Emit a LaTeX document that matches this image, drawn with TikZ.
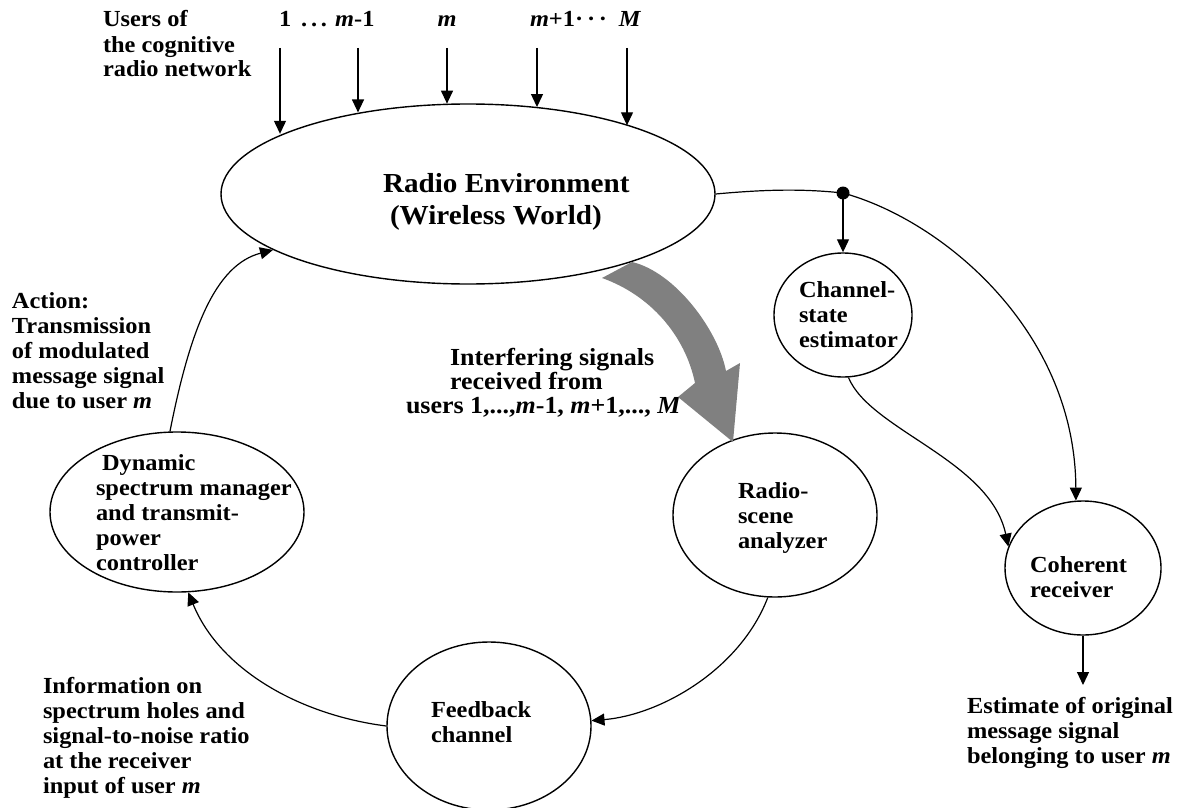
\documentclass[tikz,border=0pt]{standalone}
\usepackage{fontspec}
\setmainfont{Liberation Serif}[FakeStretch=1.06]
\usetikzlibrary{arrows.meta,shapes.geometric}
\definecolor{arrowgray}{RGB}{128,128,128}
\begin{document}
\begin{tikzpicture}[x=1pt,y=-1pt,
  lbl/.style={inner sep=0pt, outer sep=0pt, align=left, anchor=base west, font=\fontsize{23}{25}\selectfont\bfseries},
  oval/.style={draw, ellipse, line width=1.4pt, inner sep=0pt},
  ln/.style={line width=1.2pt},
  arr/.style={line width=1.2pt, -{Triangle[length=13pt,width=12pt]}}]
\useasboundingbox (0,0) rectangle (1180,808);

% ellipses
\node[oval, minimum width=494pt, minimum height=180pt] (env) at (468,194) {};
\node[oval, minimum width=138pt, minimum height=124pt] (est) at (843,315) {};
\node[oval, minimum width=156pt, minimum height=134pt] (coh) at (1083,568) {};
\node[oval, minimum width=204pt, minimum height=164pt] (rs) at (775,515) {};
\node[oval, minimum width=204pt, minimum height=168pt] (fb) at (489,726) {};
\node[oval, minimum width=254pt, minimum height=160pt] (dyn) at (177,512) {};

% texts inside ellipses (anchored at the baseline of their last line)
\node[lbl, font=\fontsize{27.5}{32}\selectfont\bfseries] (envtxt) at (383,224) {Radio Environment\\\hspace*{7pt}(Wireless World)};
\node[lbl] (esttxt) at (799,347) {Channel-\\state\\estimator};
\node[lbl] (cohtxt) at (1030,597) {Coherent\\receiver};
\node[lbl] (rstxt) at (738,548) {Radio-\\scene\\analyzer};
\node[lbl] (fbtxt) at (431,742) {Feedback\\channel};
\node[lbl] (dyntxt) at (96,570) {\hspace*{6pt}Dynamic\\spectrum manager\\and transmit-\\power\\controller};

% free labels
\node[lbl] (users) at (103,77) {Users of\\the cognitive\\radio network};
\node[lbl] (l1) at (279,27) {1 \,.\,.\,. \textit{m}-1};
\node[lbl, anchor=base] (lm) at (447,27) {\textit{m}};
\node[lbl] (lm1) at (530,27) {\textit{m}+1·\,·\,·};
\node[lbl, anchor=base] (lM) at (630,27) {\textit{M}};
\node[lbl] (act) at (12,408) {Action:\\Transmission\\of modulated\\message signal\\due to user \textit{m}};
\node[lbl] (info) at (43,793) {Information on\\spectrum holes and\\signal-to-noise ratio\\at the receiver\\input of user \textit{m}};
\node[lbl] (outtxt) at (967,763) {Estimate of original\\message signal\\belonging to user \textit{m}};
\node[lbl, font=\fontsize{24.5}{24}\selectfont\bfseries] (intf) at (406,413) {\hspace*{44pt}Interfering signals\\\hspace*{44pt}received from\\users 1,...,\textit{m}-1, \textit{m}+1,..., \textit{M}};

% user arrows
\coordinate (s1) at (280,48);
\coordinate (s2) at (358,48);
\coordinate (s3) at (447,48);
\coordinate (s4) at (537,48);
\coordinate (s5) at (627,48);
\draw[arr] (s1) -- (s1 |- env.162.7);
\draw[arr] (s2) -- (s2 |- env.143.8);
\draw[arr] (s3) -- (s3 |- env.103.2);
\draw[arr] (s4) -- (s4 |- env.51.4);
\draw[arr] (s5) -- (s5 |- env.23.4);

% right side
\coordinate (dot) at (843,193);
\draw[ln] (env.east) .. controls (770,189) and (805,189) .. (dot);
\draw[arr] (dot) .. controls (942,220) and (1075,330) .. (coh.96);
\fill (dot) circle (6.5pt);
\draw[arr] (dot) -- (est.north);
\draw[arr] (est.-85) .. controls (870,430) and (990,460) .. (coh.164);
\coordinate (outend) at (1083,685);
\draw[arr] (coh.south) -- (outend);

% loop
\draw[arr] (rs.265) .. controls (740,670) and (660,715) .. (fb.3);
\draw[arr] (fb.west) .. controls (300,715) and (220,670) .. (dyn.-82);
\draw[arr] (dyn.95) .. controls (190,330) and (215,265) .. (env.196);

% gray arrow
\fill[arrowgray] (602,278) -- (632,262) .. controls (675,272) and (718,330) .. (726,371)
  -- (740,363) -- (733,442) -- (678,397) -- (695,383)
  .. controls (685,335) and (650,295) .. (602,278) -- cycle;
\end{tikzpicture}
\end{document}
